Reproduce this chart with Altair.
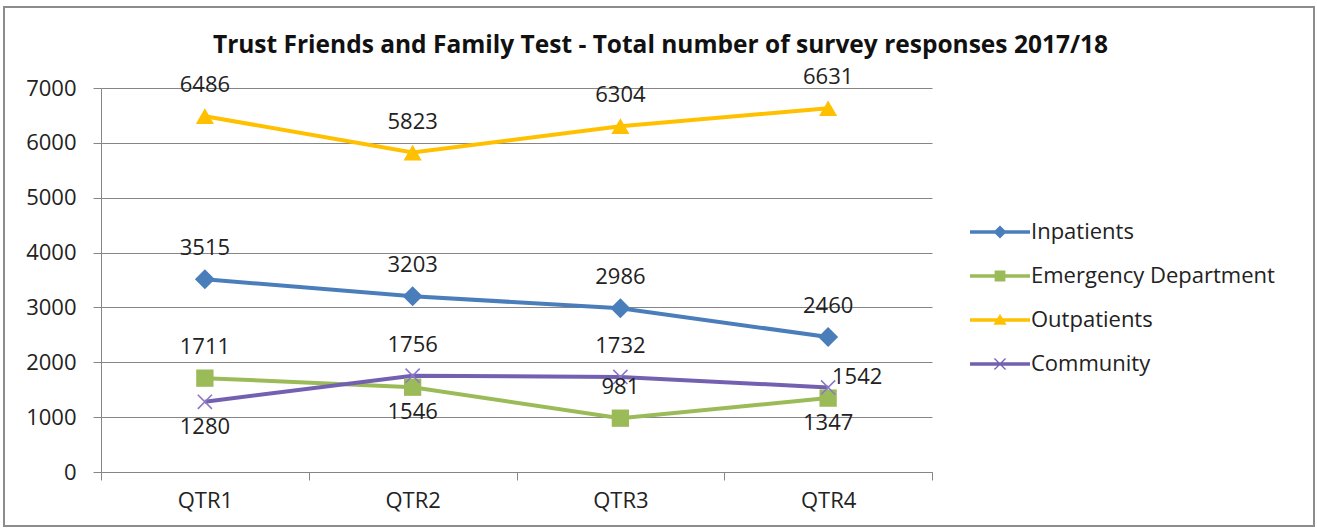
import altair as alt
import pandas as pd

quarters = ["QTR1", "QTR2", "QTR3", "QTR4"]
series_names = ["Inpatients", "Emergency Department", "Outpatients", "Community"]
inpatients = [3515, 3203, 2986, 2460]
emergency = [1711, 1546, 981, 1347]
outpatients = [6486, 5823, 6304, 6631]
community = [1280, 1756, 1732, 1542]
# where each data label sits relative to its point
inpatients_lbl = ["above", "above", "above", "above"]
emergency_lbl = ["above", "below", "above", "below"]
outpatients_lbl = ["above", "above", "above", "above"]
community_lbl = ["below", "above", "above", "right"]

colors = ["#4A7EBB", "#9BBB59", "#FFC000", "#7460B0"]
title_text = "Trust Friends and Family Test - Total number of survey responses 2017/18"

rows = []
for name, vals, lbls in zip(series_names,
                            [inpatients, emergency, outpatients, community],
                            [inpatients_lbl, emergency_lbl, outpatients_lbl, community_lbl]):
    for q, v, p in zip(quarters, vals, lbls):
        rows.append({"quarter": q, "series": name, "value": v, "pos": p})
df = pd.DataFrame(rows)

FONT = "Open Sans"
FS = 22
TXT = "#222222"
GRID = "#868686"

x_enc = alt.X("quarter:N", sort=quarters,
              scale=alt.Scale(type="band", paddingInner=0, paddingOuter=0),
              axis=alt.Axis(title=None, tickBand="extent", labelAngle=0,
                            domainColor=GRID, tickColor=GRID, tickSize=8,
                            labelFont=FONT, labelFontSize=FS, labelColor=TXT,
                            labelPadding=10, grid=False))
y_enc = alt.Y("value:Q", scale=alt.Scale(domain=[0, 7000], nice=False),
              axis=alt.Axis(title=None, values=list(range(0, 7001, 1000)), format="d",
                            domainColor=GRID, tickColor=GRID, tickSize=8,
                            gridColor=GRID, gridWidth=1,
                            labelFont=FONT, labelFontSize=FS, labelColor=TXT,
                            labelPadding=17))
col_scale = alt.Scale(domain=series_names, range=colors)
color_nolegend = alt.Color("series:N", scale=col_scale, legend=None)

base = alt.Chart(df)

# legend-only layer (draws nothing, supplies the legend with line+marker symbols)
leg = alt.Legend(title=None, orient="none", legendX=888, legendY=133,
                 symbolSize=144, labelOffset=20, rowPadding=22, padding=0,
                 labelFont=FONT, labelFontSize=FS, labelColor=TXT, labelLimit=0,
                 symbolStrokeWidth=0)
legend_paths = [
    "M-5,-0.3H5V0.3H-5Z M0,-1.1L1.1,0L0,1.1L-1.1,0Z",
    "M-5,-0.3H5V0.3H-5Z M-0.9,-0.9H0.9V0.9H-0.9Z",
    "M-5,-0.3H5V0.3H-5Z M0,-1L1.1,0.8H-1.1Z",
    "M-5,-0.3H5V0.3H-5Z M-0.85,-1L1,0.85L0.85,1L-1,-0.85Z M0.85,-1L1,-0.85L-0.85,1L-1,0.85Z",
]
legend_layer = (
    base.transform_filter("false")
    .mark_point(filled=True, opacity=1)
    .encode(x=x_enc, y=y_enc,
            color=alt.Color("series:N", scale=col_scale, legend=leg),
            shape=alt.Shape("series:N",
                            scale=alt.Scale(domain=series_names, range=legend_paths),
                            legend=leg))
)

lines = base.mark_line(strokeWidth=4).encode(x=x_enc, y=y_enc, color=color_nolegend)

shapes = {
    "Inpatients": ("diamond", 400, True),
    "Emergency Department": ("square", 300, True),
    "Outpatients": ("triangle-up", 330, True),
}
point_layers = []
for s in series_names[:3]:
    shp, sz, fl = shapes[s]
    point_layers.append(
        base.transform_filter(alt.datum.series == s)
        .mark_point(shape=shp, size=sz, filled=True, opacity=1)
        .encode(x=x_enc, y=y_enc, color=color_nolegend)
    )
point_layers.append(
    base.transform_filter(alt.datum.series == "Community")
    .mark_point(shape="M-1,-1L1,1M-1,1L1,-1", size=200, filled=False,
                strokeWidth=1.6, opacity=1, color="#8B78C8")
    .encode(x=x_enc, y=y_enc)
)


def labels(pos, dx, dy):
    return (
        base.transform_filter(alt.datum.pos == pos)
        .mark_text(font=FONT, fontSize=FS, color=TXT, align="center",
                   baseline="middle", dx=dx, dy=dy)
        .encode(x=x_enc, y=y_enc, text="value:Q")
    )


label_layers = [labels("above", 0, -31), labels("below", 0, 25), labels("right", 29, -10)]

frame = (
    alt.Chart(alt.Data(values=[{"f": 1}]))
    .mark_rect(fillOpacity=0, stroke="#8C8C8C", strokeWidth=2)
    .encode(x=alt.value(-97), x2=alt.value(1213), y=alt.value(-81), y2=alt.value(438))
)

chart = (
    alt.layer(legend_layer, frame, lines, *point_layers, *label_layers)
    .properties(
        width=831, height=384,
        title=alt.TitleParams(title_text, font=FONT, fontSize=24.5, fontWeight="bold",
                              color="#111111", anchor="middle", dx=144, dy=82, offset=30),
        autosize=alt.AutoSizeParams(type="none"),
        padding={"left": 101, "top": 88, "right": 385, "bottom": 59},
        background="white",
    )
    .configure_view(stroke=None)
)

chart.save("out.html", embed_options={"renderer": "svg", "actions": False})
